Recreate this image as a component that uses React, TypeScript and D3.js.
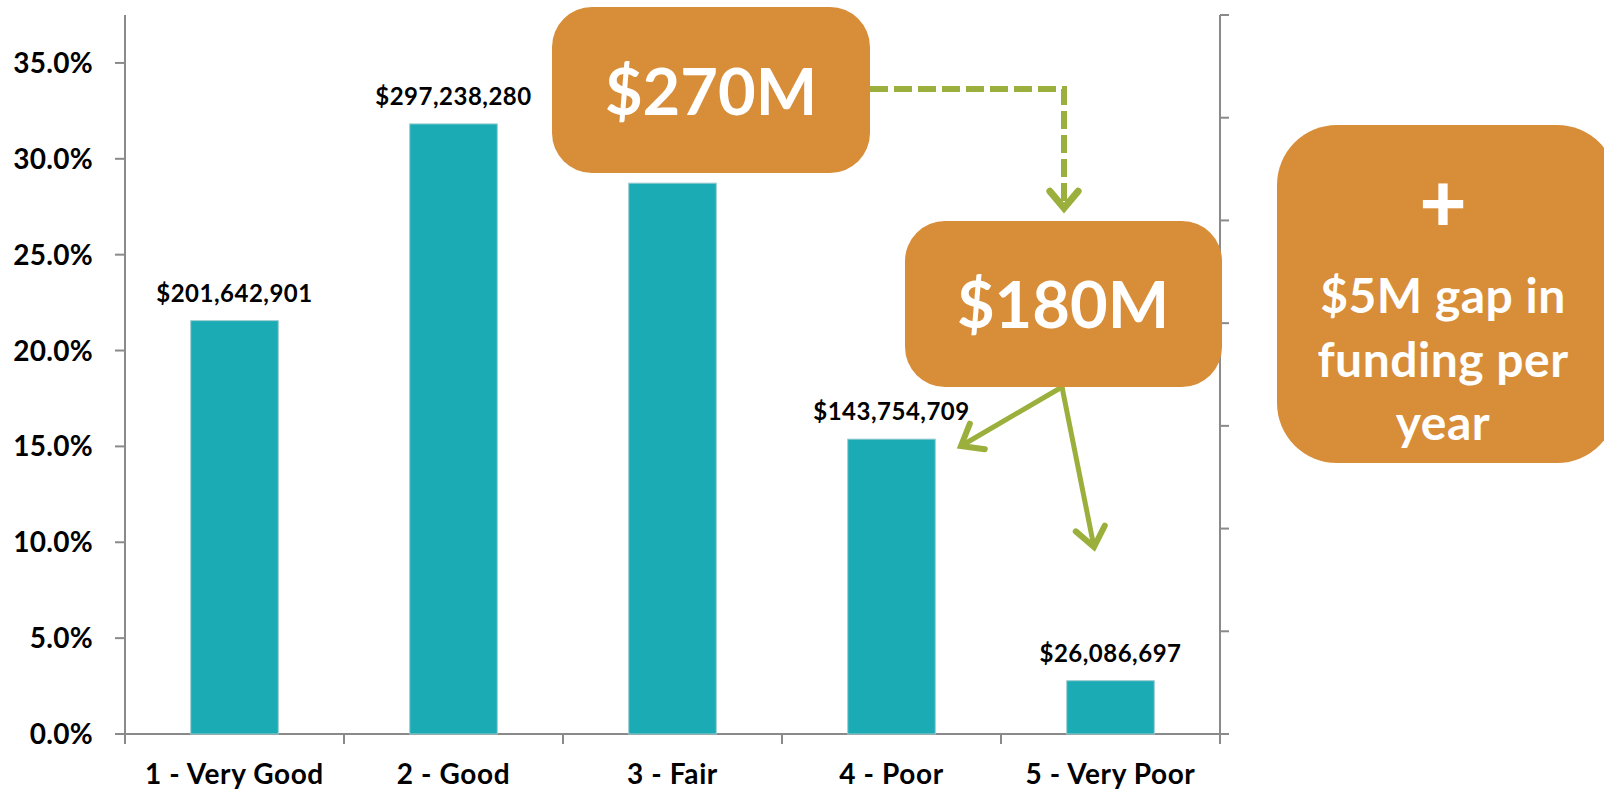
import React from "react";
import * as d3 from "d3";

const categories = ["1 - Very Good", "2 - Good", "3 - Fair", "4 - Poor", "5 - Very Poor"];
const shares = [0.2156, 0.3182, 0.2873, 0.1538, 0.0278];
const dollarLabels: (string | null)[] = ["$201,642,901", "$297,238,280", null, "$143,754,709", "$26,086,697"];
const yTicks = [0, 0.05, 0.1, 0.15, 0.2, 0.25, 0.3, 0.35];
const rightTicks = [0, 0.05, 0.1, 0.15, 0.2, 0.25, 0.3, 0.35];

const W = 1604;
const H = 793;
const plotLeft = 125;
const plotRight = 1220;
const plotBottom = 734;
const plotTop = 15;

const BAR = "#1AABB5";
const ORANGE = "#D88D38";
const GREEN = "#9BAF3C";
const AXIS = "#8A8A8A";
const FONT = "Lato, 'Open Sans', sans-serif";

function arrowHead(tx: number, ty: number, fx: number, fy: number, len = 24, ang = 38) {
  const a = Math.atan2(ty - fy, tx - fx);
  const r = (ang * Math.PI) / 180;
  const p1 = [tx - len * Math.cos(a - r), ty - len * Math.sin(a - r)];
  const p2 = [tx - len * Math.cos(a + r), ty - len * Math.sin(a + r)];
  return `M${p1[0]},${p1[1]} L${tx},${ty} L${p2[0]},${p2[1]}`;
}

export default function App() {
  const x = d3.scaleBand<string>().domain(categories).range([plotLeft, plotRight]).paddingInner(0.6).paddingOuter(0.3);
  const y = d3.scaleLinear().domain([0, 0.375]).range([plotBottom, plotTop]);
  const yR = d3.scaleLinear().domain([0, 0.35]).range([plotBottom, plotTop]);
  const step = x.step();
  const catEdges = d3.range(categories.length + 1).map((i) => plotLeft + i * step);
  const fmt = d3.format(".1%");

  return (
    <svg width={W} height={H} style={{ position: "absolute", left: 0, top: 0, display: "block", background: "#fff" }}>
      {/* left axis */}
      <line x1={plotLeft} x2={plotLeft} y1={plotTop} y2={plotBottom} stroke={AXIS} strokeWidth={2} />
      {yTicks.map((t) => (
        <g key={t}>
          <line x1={plotLeft - 10} x2={plotLeft} y1={y(t)} y2={y(t)} stroke={AXIS} strokeWidth={2} />
          <text x={93} y={y(t)} dy="0.36em" textAnchor="end" fontFamily={FONT} fontWeight={700} fontSize={28} letterSpacing={0.3} fill="#000">
            {fmt(t)}
          </text>
        </g>
      ))}
      {/* right axis */}
      <line x1={plotRight} x2={plotRight} y1={yR(0.35)} y2={plotBottom} stroke={AXIS} strokeWidth={2} />
      {rightTicks.map((t) => (
        <line key={t} x1={plotRight} x2={plotRight + 9} y1={yR(t)} y2={yR(t)} stroke={AXIS} strokeWidth={2} />
      ))}
      {/* x axis */}
      <line x1={plotLeft} x2={plotRight} y1={plotBottom} y2={plotBottom} stroke={AXIS} strokeWidth={2} />
      {catEdges.map((cx, i) => (
        <line key={i} x1={cx} x2={cx} y1={plotBottom} y2={plotBottom + 10} stroke={AXIS} strokeWidth={2} />
      ))}
      {categories.map((c) => (
        <text key={c} x={(x(c) as number) + x.bandwidth() / 2} y={784} textAnchor="middle" fontFamily={FONT} fontWeight={700} fontSize={28} letterSpacing={0.6} fill="#000">
          {c}
        </text>
      ))}
      {/* bars */}
      {categories.map((c, i) => (
        <rect key={c} x={x(c)} y={y(shares[i])} width={x.bandwidth()} height={plotBottom - y(shares[i])} fill={BAR} stroke="#9FCDD2" strokeWidth={1} />
      ))}
      {categories.map((c, i) =>
        dollarLabels[i] ? (
          <text key={c} x={(x(c) as number) + x.bandwidth() / 2} y={y(shares[i]) - 19} textAnchor="middle" fontFamily={FONT} fontWeight={700} fontSize={24} letterSpacing={0.5} fill="#000">
            {dollarLabels[i]}
          </text>
        ) : null
      )}

      {/* dashed connector */}
      <path d="M870,89 L1064,89 L1064,205" fill="none" stroke={GREEN} strokeWidth={6} strokeDasharray="18 6" />
      <path d={arrowHead(1064, 208, 1064, 100, 22, 40)} fill="none" stroke={GREEN} strokeWidth={7} strokeLinecap="round" strokeLinejoin="miter" />

      {/* box 1 */}
      <rect x={552} y={7} width={318} height={166} rx={40} ry={40} fill={ORANGE} />
      <text x={711} y={115} textAnchor="middle" fontFamily={FONT} fontWeight={700} fontSize={65} fill="#fff">$270M</text>

      {/* solid arrows */}
      <path d="M1062,387 L961,446" fill="none" stroke={GREEN} strokeWidth={5} strokeLinecap="round" />
      <path d={arrowHead(961, 446, 1062, 387, 24, 38)} fill="none" stroke={GREEN} strokeWidth={6} strokeLinecap="round" />
      <path d="M1062,387 L1094,547" fill="none" stroke={GREEN} strokeWidth={5} strokeLinecap="round" />
      <path d={arrowHead(1094, 547, 1062, 387, 24, 38)} fill="none" stroke={GREEN} strokeWidth={6} strokeLinecap="round" />

      {/* box 2 */}
      <rect x={905} y={221} width={317} height={166} rx={40} ry={40} fill={ORANGE} />
      <text x={1063} y={328} textAnchor="middle" fontFamily={FONT} fontWeight={700} fontSize={65} fill="#fff">$180M</text>

      {/* box 3 */}
      <rect x={1277} y={125} width={340} height={338} rx={60} ry={60} fill={ORANGE} />
      <text x={1443} y={232} textAnchor="middle" fontFamily={FONT} fontWeight={900} fontSize={82} fill="#fff">+</text>
      <text x={1443} y={313} textAnchor="middle" fontFamily={FONT} fontWeight={700} fontSize={48} letterSpacing={0.5} fill="#fff">$5M gap in</text>
      <text x={1443} y={377} textAnchor="middle" fontFamily={FONT} fontWeight={700} fontSize={48} letterSpacing={0.5} fill="#fff">funding per</text>
      <text x={1443} y={440} textAnchor="middle" fontFamily={FONT} fontWeight={700} fontSize={48} letterSpacing={0.5} fill="#fff">year</text>
    </svg>
  );
}
